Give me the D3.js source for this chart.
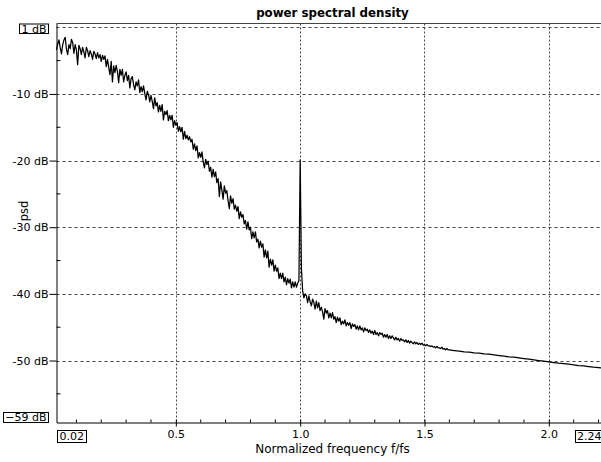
<!DOCTYPE html>
<html>
<head>
<meta charset="utf-8">
<script src="https://cdn.jsdelivr.net/npm/d3@7"></script>
<style>
  html, body { margin: 0; padding: 0; background: #fff; }
  svg { display: block; }
  text { font-family: "DejaVu Sans", Verdana, sans-serif; fill: #000; }
</style>
</head>
<body>
<svg id="chart" width="601" height="462"></svg>
<script>
// Power spectral density estimate, dB, on a uniform frequency grid.
const BAND_START = 0.02;
const BAND_STEP = 0.005;
const psdBand = [
  -3.4, -2.5, -1.9, -3.1, -4.0, -2.6, -1.9, -1.5, -3.3, -4.1,
  -2.6, -3.2, -1.8, -2.3, -3.9, -2.6, -3.4, -5.6, -2.7, -3.2,
  -4.1, -3.0, -3.7, -4.6, -3.0, -3.5, -4.4, -3.5, -4.0, -4.8,
  -3.6, -4.0, -4.7, -3.8, -4.6, -4.1, -5.1, -4.2, -4.8, -4.3,
  -5.9, -4.8, -6.0, -7.1, -5.1, -8.2, -5.8, -6.8, -5.7, -6.6,
  -8.3, -6.3, -7.2, -6.3, -8.2, -7.2, -6.7, -8.0, -7.2, -9.1,
  -7.7, -7.4, -8.6, -9.4, -8.2, -8.8, -7.9, -9.8, -8.9, -9.7,
  -8.8, -9.9, -10.9, -9.6, -10.1, -11.2, -10.2, -11.1, -12.2, -10.6,
  -11.8, -11.3, -12.7, -11.7, -12.6, -11.6, -13.9, -12.6, -13.1, -12.5,
  -14.0, -13.2, -13.9, -13.2, -15.0, -14.0, -14.7, -14.3, -15.6, -14.9,
  -15.7, -15.0, -16.8, -15.6, -16.7, -16.2, -16.9, -16.4, -17.2, -16.8,
  -18.3, -17.5, -18.5, -17.8, -19.6, -18.8, -19.5, -18.7, -20.2, -21.1,
  -19.8, -20.6, -20.1, -21.6, -21.0, -22.5, -21.3, -22.4, -21.7, -23.3,
  -22.7, -25.4, -23.2, -24.4, -25.8, -23.8, -24.9, -24.5, -26.0, -27.2,
  -25.3, -26.4, -25.7, -27.3, -26.7, -27.6, -26.9, -28.7, -27.7, -28.5,
  -28.1, -29.5, -29.0, -30.3, -29.2, -30.4, -30.0, -31.7, -30.7, -31.6,
  -30.7, -32.2, -31.8, -33.1, -32.1, -33.0, -32.5, -34.5, -33.4, -34.6,
  -33.6, -36.0, -34.8, -35.7, -34.9, -36.6, -35.7, -36.6, -36.1, -37.7,
  -36.9, -37.7, -36.9, -38.2, -37.5, -38.6, -37.7, -38.4, -37.8, -39.1,
  -38.2, -39.0, -38.2, -39.0, -38.4, -38.0, -19.9, -36.2, -39.6, -40.6,
  -40.0, -40.3, -41.3, -40.3, -41.2, -41.8, -40.8, -41.3, -42.3, -41.1,
  -42.1, -41.3, -42.5, -42.0, -42.7, -43.8, -42.2, -42.9, -42.5, -43.6,
  -42.9, -43.6, -42.8, -43.8, -43.4, -44.3, -43.5, -44.1, -43.6, -44.6,
  -44.1, -44.5, -43.9, -44.8, -44.3, -44.7, -44.3, -45.2, -44.5, -44.9,
  -44.6, -45.3, -44.8, -45.4, -44.8, -45.4, -45.1, -45.7, -45.1, -45.5,
  -45.3, -45.8, -45.4, -45.9, -45.6, -46.1, -45.5, -46.1, -45.8, -46.3,
  -45.8, -46.1, -45.9, -46.5, -46.1, -46.5, -46.1, -46.7, -46.3, -46.7,
  -46.3, -46.6, -46.9, -46.5, -46.9, -46.7, -47.1, -46.7, -47.0, -46.9,
  -47.2, -46.9, -47.3, -47.0, -47.4, -47.1, -47.3, -47.5, -47.2, -47.5,
  -47.3, -47.6, -47.4, -47.6, -47.4, -47.7, -47.6, -47.8, -47.6, -47.8,
  -47.8, -47.9, -47.8, -48.0, -47.9, -48.1, -47.9, -48.1, -48.1, -48.2,
  -48.0, -48.3, -48.2, -48.4, -48.2, -48.4, -48.4
];

// Smooth upper band, coarser grid.
const TAIL_START = 1.62;
const TAIL_STEP = 0.02;
const psdTail = [
  -48.5, -48.6, -48.7, -48.75, -48.85, -48.9, -49.0, -49.05, -49.15, -49.25,
  -49.35, -49.45, -49.5, -49.6, -49.7, -49.8, -49.9, -50.0, -50.1, -50.2,
  -50.3, -50.4, -50.45, -50.55, -50.65, -50.75, -50.8, -50.9, -51.0, -51.05,
  -51.15, -51.25
];

// Axis ranges and ticks
const freqDomain = [0.02, 2.24];
const psdDomain = [-59.3, 0.57];
const freqMajor = [0.5, 1.0, 1.5, 2.0];
const freqMinor = [0.1, 0.2, 0.3, 0.4, 0.6, 0.7, 0.8, 0.9, 1.1, 1.2, 1.3, 1.4,
                   1.6, 1.7, 1.8, 1.9, 2.1, 2.2];
const psdGrid = [0, -10, -20, -30, -40, -50];
const psdLabeled = [-10, -20, -30, -40, -50];
const psdMinor = [-5, -15, -25, -35, -45, -55];

const titleText = "power spectral density";
const xLabelText = "Normalized frequency f/fs";
const yLabelText = "psd";

const svg = d3.select("#chart");
const plotLeft = 56.5, plotRight = 608.5, plotTop = 23.5, plotBottom = 422.5;

const x = d3.scaleLinear().domain(freqDomain).range([plotLeft, plotRight]);
const y = d3.scaleLinear().domain(psdDomain).range([plotBottom, plotTop]);

const points = psdBand.map((v, i) => [BAND_START + i * BAND_STEP, v])
  .concat(psdTail.map((v, i) => [TAIL_START + i * TAIL_STEP, v]));

// grid
const grid = svg.append("g");
grid.selectAll("line.h").data(psdGrid).join("line")
  .attr("x1", plotLeft).attr("x2", plotRight)
  .attr("y1", d => Math.round(y(d)) + 0.5).attr("y2", d => Math.round(y(d)) + 0.5)
  .attr("stroke", "#444").attr("stroke-width", 1).attr("stroke-dasharray", "3,3");
grid.selectAll("line.v").data(freqMajor).join("line")
  .attr("x1", d => Math.round(x(d)) + 0.5).attr("x2", d => Math.round(x(d)) + 0.5)
  .attr("y1", plotTop).attr("y2", plotBottom)
  .attr("stroke", "#444").attr("stroke-width", 1).attr("stroke-dasharray", "2,2");

// top border
svg.append("line").attr("x1", plotLeft).attr("x2", plotRight).attr("y1", plotTop).attr("y2", plotTop)
  .attr("stroke", "#444").attr("stroke-width", 1);

// curve
const line = d3.line().x(d => x(d[0])).y(d => y(d[1]));
svg.append("path").datum(points).attr("d", line)
  .attr("fill", "none").attr("stroke", "#000").attr("stroke-width", 1.25)
  .attr("stroke-linejoin", "round");

const tickFont = "11px";

// y axis
const yAxis = d3.axisLeft(y).tickValues(psdLabeled)
  .tickFormat(d => d + " dB").tickSizeInner(7).tickSizeOuter(0).tickPadding(1);
const gy = svg.append("g").attr("transform", `translate(${plotLeft},0)`).call(yAxis);
gy.attr("font-family", null).attr("font-size", null);
gy.select(".domain").attr("stroke", "#000");
gy.selectAll("text").style("font-size", tickFont);
gy.selectAll(".minor").data(psdMinor.filter(d => d > psdDomain[0])).join("line")
  .attr("class", "minor")
  .attr("x1", 0).attr("x2", 4).attr("y1", d => y(d)).attr("y2", d => y(d))
  .attr("stroke", "#000");

// x axis
const xAxis = d3.axisBottom(x).tickValues(freqMajor)
  .tickFormat(d3.format(".1f")).tickSizeInner(4).tickSizeOuter(0).tickPadding(4);
const gx = svg.append("g").attr("transform", `translate(0,${plotBottom})`).call(xAxis);
gx.attr("font-family", null).attr("font-size", null);
gx.select(".domain").attr("stroke", "#000");
gx.selectAll("text").style("font-size", tickFont);
gx.selectAll(".minor").data(freqMinor).join("line")
  .attr("class", "minor")
  .attr("x1", d => x(d)).attr("x2", d => x(d)).attr("y1", 0).attr("y2", -3)
  .attr("stroke", "#000");
gx.selectAll(".tick line").attr("y1", -3);

// boxed end-of-range labels: text baseline, box top/bottom offsets from it
function boxLabel(txt, bx, base, anchor, up, down) {
  const g = svg.append("g");
  const t = g.append("text").text(txt).attr("font-size", tickFont)
    .attr("x", bx).attr("y", base).attr("text-anchor", anchor);
  const w = t.node().getComputedTextLength();
  const x0 = anchor === "end" ? bx - w : bx;
  g.insert("rect", "text")
    .attr("x", Math.round(x0 - 2.5) + 0.5).attr("y", base - up)
    .attr("width", Math.round(w + 4)).attr("height", up + down)
    .attr("fill", "#fff").attr("stroke", "#000").attr("stroke-width", 1);
}
boxLabel(d3.format(".0f")(psdDomain[1]) + " dB", 46.5, 32.5, "end", 8.5, 1);
boxLabel(d3.format(".0f")(psdDomain[0]) + " dB", 46.5, 421, "end", 8.5, 1.5);
boxLabel(d3.format(".2f")(freqDomain[0]), 59.5, 440, "start", 9.5, 2.5);
boxLabel(d3.format(".2f")(freqDomain[1]), 577, 440, "start", 9.5, 2.5);

// titles
svg.append("text").text(titleText).attr("x", (plotLeft + plotRight) / 2).attr("y", 17)
  .attr("text-anchor", "middle").attr("font-weight", "bold").attr("font-size", "11.8px");
svg.append("text").text(xLabelText).attr("x", (plotLeft + plotRight) / 2).attr("y", 453)
  .attr("text-anchor", "middle").attr("font-size", "12px");
svg.append("text").text(yLabelText)
  .attr("transform", "translate(28,211) rotate(-90)")
  .attr("text-anchor", "middle").attr("font-size", "11.5px");
</script>
</body>
</html>
